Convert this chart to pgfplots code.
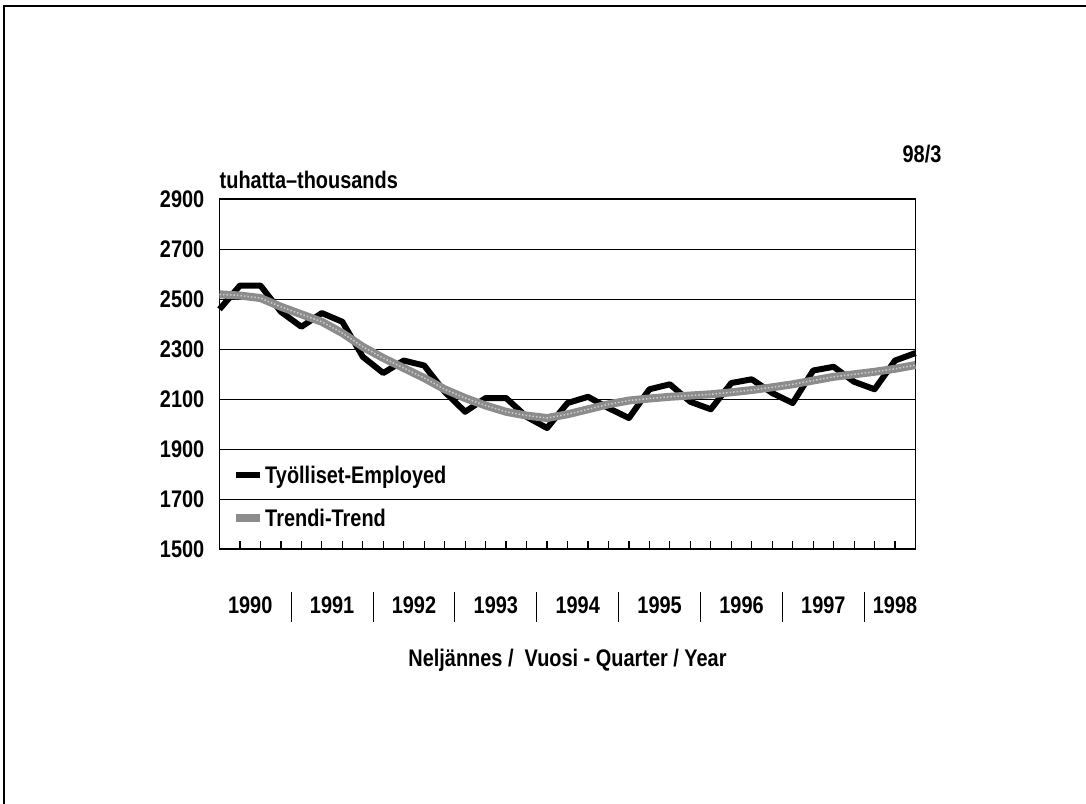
\documentclass[border=0pt]{standalone}
\usepackage{fontspec}
\setmainfont{Liberation Sans}[FakeStretch=0.83]
\usepackage{pgfplots}
\pgfplotsset{compat=1.18}

\definecolor{trendgray}{RGB}{140,140,140}
\newcommand\chartfont{\fontsize{24bp}{28bp}\selectfont\bfseries}

% quarters 1990/1 ... 1998/3 at x = 0..34
\pgfplotstableread{
q emp trend
0 2460 2520
1 2555 2515
2 2555 2505
3 2450 2470
4 2390 2440
5 2445 2410
6 2410 2365
7 2270 2310
8 2205 2265
9 2255 2225
10 2235 2185
11 2130 2140
12 2050 2105
13 2105 2075
14 2105 2050
15 2030 2035
16 1985 2025
17 2085 2040
18 2110 2060
19 2065 2080
20 2025 2095
21 2140 2103
22 2160 2110
23 2090 2115
24 2060 2120
25 2165 2128
26 2180 2137
27 2125 2148
28 2085 2160
29 2215 2175
30 2230 2190
31 2170 2200
32 2140 2210
33 2255 2222
34 2285 2237
}\employment

\begin{document}
\begin{tikzpicture}[x=1bp,y=1bp]
\useasboundingbox (0,0) rectangle (1086,804);
\draw[line width=1.5bp] (4,0) -- (4,798) -- (1086,798);
\begin{axis}[
  at={(219.5bp,254.7bp)}, anchor=south west,
  scale only axis, width=696bp, height=350bp,
  xmin=0, xmax=34, ymin=1500, ymax=2900,
  clip=false,
  axis line style={line width=1.8bp},
  ytick={1500,1700,...,2900},
  ymajorgrids, y grid style={black, line width=1.2bp},
  y tick style={draw=none},
  xtick={1,...,33}, xticklabels={},
  tick align=inside, xtick pos=bottom,
  major tick length=8bp,
  x tick style={black, line width=1.2bp},
  extra x ticks={1.5,5.5,9.5,13.5,17.5,21.5,25.5,29.5,33},
  extra x tick labels={1990,1991,1992,1993,1994,1995,1996,1997,1998},
  extra x tick style={major tick length=0pt,
    xticklabel style={anchor=center, yshift=-56bp}},
  tick label style={font=\chartfont},
  /pgf/number format/assume math mode=true,
  /pgf/number format/1000 sep={},
  yticklabel style={anchor=east, inner sep=0pt, xshift=-15bp},
  xlabel={Neljännes /\ \ Vuosi - Quarter / Year},
  xlabel style={font=\chartfont, at={(axis description cs:0.5,0)}, anchor=center, yshift=-111bp},
  legend style={font=\chartfont, draw=none, fill=none,
    at={(0.018,0.242)}, anchor=north west, inner sep=0pt,
    row sep=22bp, nodes={inner sep=1bp}},
  legend cell align=left,
  legend image code/.code={\draw[#1] (0bp,0bp) -- (24bp,0bp);},
]
\addplot[black, line width=6bp, line join=round] table[x=q, y=emp] {\employment};
\addlegendentry{Työlliset-Employed}
\addplot[trendgray, line width=8bp, line join=round] table[x=q, y=trend] {\employment};
\addlegendentry{Trendi-Trend}
\addplot[white, line width=1.5bp, dash pattern=on 1.5bp off 2bp, opacity=0.55, forget plot] table[x=q, y=trend] {\employment};
\pgfplotsinvokeforeach{3.5,7.5,11.5,15.5,19.5,23.5,27.5,31.5}{
  \draw[line width=1bp] ([yshift=-43bp]axis cs:#1,1500) -- ([yshift=-73bp]axis cs:#1,1500);
}
\node[anchor=west, inner sep=0pt, font=\chartfont] at (rel axis cs:0,1) [yshift=19bp] {tuhatta--thousands};
\node[anchor=center, inner sep=0pt, font=\chartfont] at (rel axis cs:1,1) [xshift=6.5bp, yshift=45bp] {98/3};
\end{axis}
\end{tikzpicture}
\end{document}
